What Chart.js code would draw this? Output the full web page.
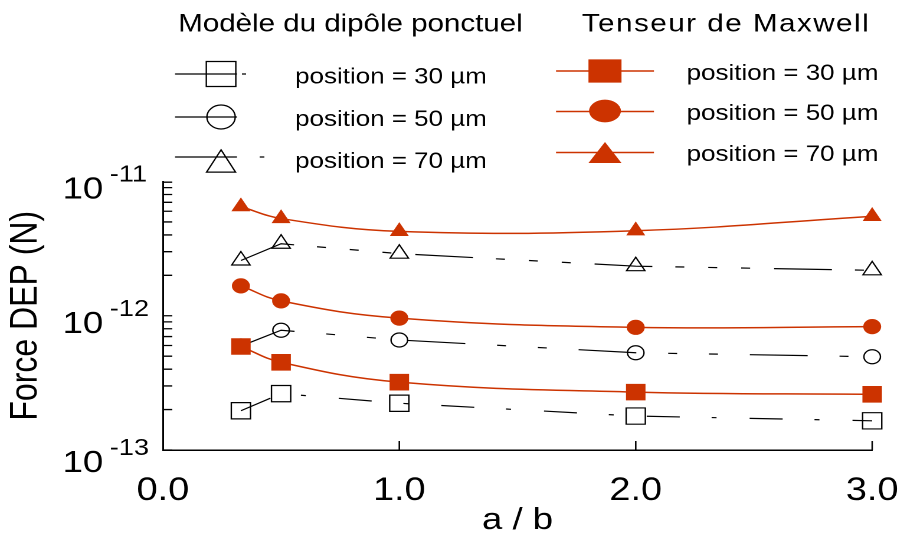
<!DOCTYPE html>
<html>
<head>
<meta charset="utf-8">
<script src="https://cdn.jsdelivr.net/npm/chart.js@4.4.1/dist/chart.umd.min.js"></script>
<style>
  html, body { margin: 0; padding: 0; background: #fff; overflow: hidden; }
  /* the reference figure is stretched sideways, so draw narrow and scale the box */
  #wrap { position: absolute; left: 0; top: 0; width: 766px; height: 536px;
          transform: scaleX(1.1802); transform-origin: 0 0; }
</style>
</head>
<body>
<div id="wrap"><canvas id="forceChart"></canvas></div>
<script>
const ratioAB = [0.33, 0.5, 1.0, 2.0, 3.0];

const maxwell30 = [5.9e-13, 4.5e-13, 3.2e-13, 2.7e-13, 2.6e-13];
const maxwell50 = [1.67e-12, 1.29e-12, 9.6e-13, 8.2e-13, 8.3e-13];
const maxwell70 = [6.5e-12, 5.3e-12, 4.25e-12, 4.3e-12, 5.5e-12];

const dipole30 = [1.96e-13, 2.63e-13, 2.23e-13, 1.79e-13, 1.65e-13];
const dipole50 = [5.95e-13, 7.8e-13, 6.6e-13, 5.3e-13, 4.95e-13];
const dipole70 = [2.58e-12, 3.44e-12, 2.9e-12, 2.34e-12, 2.18e-12];

const seriesNames = ["position = 30 µm", "position = 50 µm", "position = 70 µm"];
const groupTitles = ["Modèle du dipôle ponctuel", "Tenseur de Maxwell"];
const xTicks = [0, 1, 2, 3];
const yDecades = [-13, -12, -11];

const FONT = "'Liberation Sans', Arial, Helvetica, sans-serif";
const RED = "#cc3300";

Chart.defaults.font.family = FONT;
Chart.defaults.color = "#000";

function pts(values) {
  return values.map((v, i) => ({ x: ratioAB[i], y: v }));
}

function redSet(label, values, style, radius) {
  return {
    label: label,
    data: pts(values),
    borderColor: RED,
    backgroundColor: RED,
    borderWidth: 1.5,
    pointStyle: style,
    pointRadius: radius,
    pointBackgroundColor: RED,
    pointBorderColor: RED,
    pointBorderWidth: 0,
    tension: 0.4,
    clip: false,
  };
}

function blackSet(label, values, style, radius, dash) {
  return {
    label: label,
    data: pts(values),
    borderColor: "#000",
    backgroundColor: "rgba(0,0,0,0)",
    borderWidth: 1.2,
    borderDash: dash,
    pointStyle: style,
    pointRadius: radius,
    pointBackgroundColor: "rgba(0,0,0,0)",
    pointBorderColor: "#000",
    pointBorderWidth: 1.2,
    tension: 0,
    clip: false,
  };
}

function drawMarker(ctx, style, x, y, w, h, fill, stroke, lw) {
  ctx.save();
  ctx.beginPath();
  if (style === "rect") {
    ctx.rect(x - w / 2, y - h / 2, w, h);
  } else if (style === "circle") {
    ctx.ellipse(x, y, w / 2, h / 2, 0, 0, Math.PI * 2);
  } else {
    ctx.moveTo(x, y - h / 2);
    ctx.lineTo(x + w / 2, y + h / 2);
    ctx.lineTo(x - w / 2, y + h / 2);
    ctx.closePath();
  }
  if (fill) { ctx.fillStyle = fill; ctx.fill(); }
  if (stroke) { ctx.strokeStyle = stroke; ctx.lineWidth = lw; ctx.stroke(); }
  ctx.restore();
}

// legend layout (two groups with a title each)
const legendCols = [
  { title: groupTitles[0], titleX: 151, spacing: "0px", sets: [3, 4, 5],
    x0: 148.3, x1: 200.8, mx: 187.3, tx: 250,
    rows: [74, 117, 157], texts: [83.5, 126, 168], mOff: [0, 0, 4],
    sizes: [[25, 25], [24, 24], [24.6, 22.3]], tails: [[205, 208.5], null, [220, 224]] },
  { title: groupTitles[1], titleX: 493, spacing: "1.3px", sets: [0, 1, 2],
    x0: 471.1, x1: 554.1, mx: 512.6, tx: 581.8,
    rows: [71, 111.5, 152.5], texts: [80, 120, 161], mOff: [0, -0.5, 0],
    sizes: [[28, 23.3], [27, 22.7], [28, 21]], tails: [null, null, null] },
];

const decorations = {
  id: "decorations",
  afterDraw(chart) {
    const ctx = chart.ctx;
    const xs = chart.scales.x;
    const ys = chart.scales.y;
    const area = chart.chartArea;

    ctx.save();
    // inward tick marks
    ctx.strokeStyle = "#000";
    ctx.lineWidth = 1.3;
    ctx.beginPath();
    for (let e = yDecades[0]; e < yDecades[yDecades.length - 1]; e++) {
      for (let m = 1; m <= 9; m++) {
        const py = ys.getPixelForValue(m * Math.pow(10, e));
        ctx.moveTo(area.left, py);
        ctx.lineTo(area.left + 8, py);
      }
    }
    const topPy = ys.getPixelForValue(Math.pow(10, yDecades[yDecades.length - 1]));
    ctx.moveTo(area.left, topPy + 0.7);
    ctx.lineTo(area.left + 8, topPy + 0.7);
    xTicks.slice(1).forEach(v => {
      const px = xs.getPixelForValue(v);
      ctx.moveTo(px, area.bottom);
      ctx.lineTo(px, area.bottom - 9);
    });
    ctx.stroke();

    // y tick labels with exponents
    ctx.fillStyle = "#000";
    ctx.textAlign = "left";
    ctx.textBaseline = "alphabetic";
    yDecades.forEach((e, i) => {
      const py = ys.getPixelForValue(Math.pow(10, e));
      const base = py + (i === 0 ? 22 : 17);
      ctx.font = "31px " + FONT;
      ctx.fillText("10", 53, base);
      ctx.font = "23px " + FONT;
      ctx.fillText(String(e), 93, base - 17);
    });

    // legend
    legendCols.forEach(col => {
      ctx.font = "25px " + FONT;
      ctx.letterSpacing = col.spacing;
      ctx.fillStyle = "#000";
      ctx.fillText(col.title, col.titleX, 31.7);
      ctx.letterSpacing = "0px";
      col.sets.forEach((di, r) => {
        const ds = chart.data.datasets[di];
        const ly = col.rows[r];
        ctx.strokeStyle = ds.borderColor;
        ctx.lineWidth = ds.borderWidth;
        ctx.beginPath();
        ctx.moveTo(col.x0, ly);
        ctx.lineTo(col.x1, ly);
        if (col.tails[r]) {
          ctx.moveTo(col.tails[r][0], ly);
          ctx.lineTo(col.tails[r][1], ly);
        }
        ctx.stroke();
        const filled = ds.pointBackgroundColor !== "rgba(0,0,0,0)";
        drawMarker(ctx, ds.pointStyle, col.mx, ly + col.mOff[r], col.sizes[r][0], col.sizes[r][1],
          filled ? ds.pointBackgroundColor : null, filled ? null : ds.pointBorderColor, ds.pointBorderWidth);
        ctx.font = "22px " + FONT;
        ctx.fillStyle = "#000";
        ctx.fillText(ds.label, col.tx, col.texts[r]);
      });
    });
    ctx.restore();
  },
};

const ctx = document.getElementById("forceChart").getContext("2d");

const chart = new Chart(ctx, {
  type: "line",
  data: {
    datasets: [
      redSet(seriesNames[0], maxwell30, "rect", 11.7),
      redSet(seriesNames[1], maxwell50, "circle", 7.6),
      redSet(seriesNames[2], maxwell70, "triangle", 9.3),
      blackSet(seriesNames[0], dipole30, "rect", 11.5, [28, 27, 4.2, 28]),
      blackSet(seriesNames[1], dipole50, "circle", 7, [49, 27, 7.6, 27, 7.6, 27]),
      blackSet(seriesNames[2], dipole70, "triangle", 9, [49, 19.5, 7.6, 20.3, 7.6, 20.3, 7.6, 20.3]),
    ],
  },
  options: {
    responsive: true,
    maintainAspectRatio: false,
    devicePixelRatio: 2,
    animation: false,
    layout: {
      padding: { top: 181.5, right: 27, left: 0, bottom: 0 },
    },
    plugins: {
      legend: { display: false },
      tooltip: { enabled: false },
    },
    scales: {
      x: {
        type: "linear",
        min: 0,
        max: 3,
        grid: { display: false },
        border: { display: true, color: "#000", width: 1.5 },
        ticks: {
          stepSize: 1,
          autoSkip: false,
          maxRotation: 0,
          padding: 14,
          font: { size: 32 },
          color: "#000",
          callback: v => (xTicks.includes(v) ? v.toFixed(1) : ""),
        },
        title: {
          display: true,
          text: "a / b",
          font: { size: 31, lineHeight: 1 },
          padding: { top: 0, bottom: 0 },
          color: "#000",
        },
        afterFit: scale => {
          scale.height = 86;
          scale.paddingLeft = 0;
          scale.paddingRight = 0;
        },
      },
      y: {
        type: "logarithmic",
        min: 1e-13,
        max: 1e-11,
        grid: { display: false },
        border: { display: true, color: "#000", width: 1.5 },
        ticks: { display: false },
        title: {
          display: true,
          text: "Force DEP (N)",
          font: { size: 32 },
          padding: { top: 3, bottom: 0 },
          color: "#000",
        },
        afterFit: scale => { scale.width = 138; },
      },
    },
  },
  plugins: [decorations],
});
</script>
</body>
</html>
